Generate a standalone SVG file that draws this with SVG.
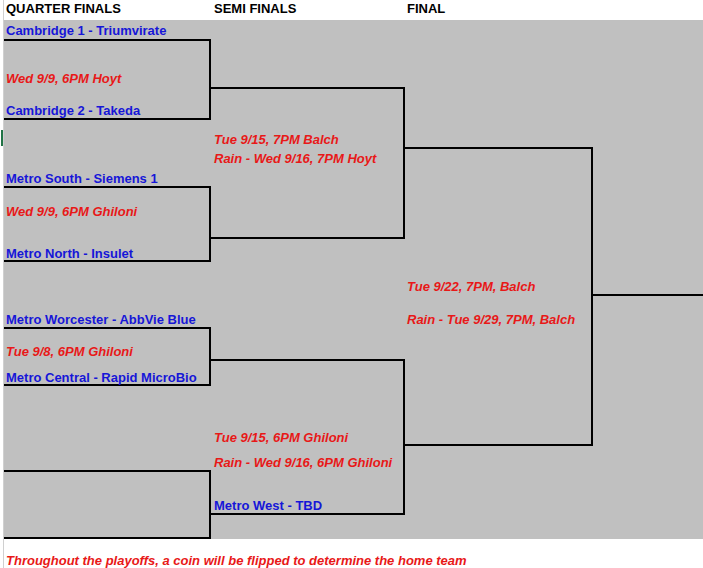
<svg xmlns="http://www.w3.org/2000/svg" width="703" height="568" viewBox="0 0 703 568">
<style>
.t{font-family:"Liberation Sans",Arial,sans-serif;font-size:13px;font-weight:bold;white-space:pre}
.h{fill:#000}
.team{fill:#1616d8}
.note{fill:#e81818;font-style:italic}
.ln{stroke:#000;stroke-width:2;fill:none}
</style>
<rect x="0" y="0" width="703" height="568" fill="#fff"/>
<rect x="4" y="20" width="699" height="519" fill="#c0c0c0"/>
<line x1="3.5" y1="0" x2="3.5" y2="568" stroke="#d0d0d0"/>
<rect x="1" y="130" width="2" height="16" fill="#217346"/>
<g id="headers" class="t h">
<text x="6" y="13">QUARTER FINALS</text>
<text x="214" y="13">SEMI FINALS</text>
<text x="407" y="13">FINAL</text>
</g>
<g id="connectors" class="ln">
<polyline points="4,40 210,40 210,119 4,119"/>
<polyline points="4,187 210,187 210,261 4,261"/>
<polyline points="4,328 210,328 210,385 4,385"/>
<polyline points="4,471 210,471 210,538 4,538"/>
<polyline points="210,88 404,88 404,238 210,238"/>
<polyline points="210,360 404,360 404,514 210,514"/>
<polyline points="404,148 592,148 592,445 404,445"/>
<line x1="592" y1="295" x2="703" y2="295"/>
</g>
<g id="qf1" class="t">
<text x="6" y="35" class="team">Cambridge 1 - Triumvirate</text>
<text x="6" y="83" class="note">Wed 9/9, 6PM Hoyt</text>
<text x="6" y="115" class="team">Cambridge 2 - Takeda</text>
</g>
<g id="qf2" class="t">
<text x="6" y="183" class="team">Metro South - Siemens 1</text>
<text x="6" y="216" class="note">Wed 9/9, 6PM Ghiloni</text>
<text x="6" y="258" class="team">Metro North - Insulet</text>
</g>
<g id="qf3" class="t">
<text x="6" y="324" class="team">Metro Worcester - AbbVie Blue</text>
<text x="6" y="356" class="note">Tue 9/8, 6PM Ghiloni</text>
<text x="6" y="382" class="team">Metro Central - Rapid MicroBio</text>
</g>
<g id="sf1" class="t note">
<text x="214" y="144">Tue 9/15, 7PM Balch</text>
<text x="214" y="163">Rain -  Wed 9/16, 7PM Hoyt</text>
</g>
<g id="sf2" class="t">
<text x="214" y="442" class="note">Tue 9/15, 6PM Ghiloni</text>
<text x="214" y="467" class="note">Rain -  Wed 9/16, 6PM Ghiloni</text>
<text x="214" y="510" class="team">Metro West - TBD</text>
</g>
<g id="final" class="t note">
<text x="407" y="291">Tue 9/22, 7PM, Balch</text>
<text x="407" y="324">Rain - Tue 9/29, 7PM, Balch</text>
</g>
<g id="footer" class="t note">
<text x="6" y="565">Throughout the playoffs, a coin will be flipped to determine the home team</text>
</g>
</svg>
